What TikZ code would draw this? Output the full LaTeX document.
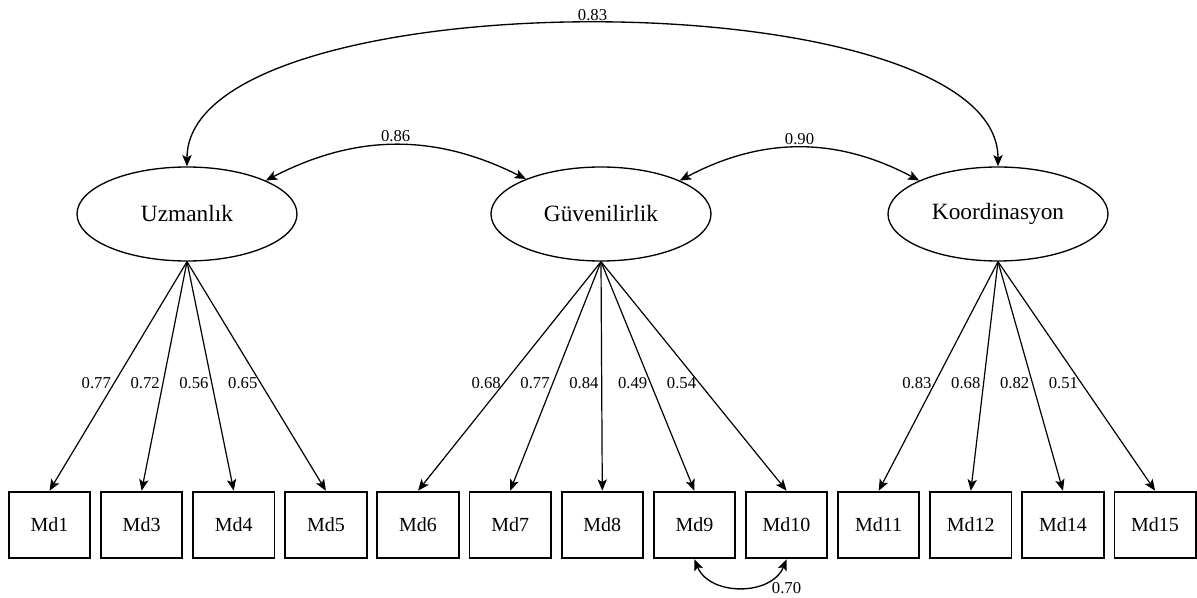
\documentclass[tikz,border=0pt]{standalone}
\usepackage{fontspec}
\setmainfont{Liberation Serif}
\usetikzlibrary{arrows.meta,positioning,shapes.geometric}
\tikzset{
  latent/.style={draw=black, line width=1pt, ellipse, inner sep=0pt,
    minimum width=165pt, minimum height=70.5pt, font=\fontsize{17.5}{20}\selectfont},
  indicator/.style={draw=black, line width=1.4pt, inner sep=0pt,
    minimum width=61pt, minimum height=50pt, font=\fontsize{15}{18}\selectfont},
  wire/.style={-{Stealth[length=8.5pt, width=7pt, inset=2pt]}, line width=0.9pt},
  covwire/.style={{Stealth[length=8.5pt, width=7pt, inset=2pt]}-{Stealth[length=8.5pt, width=7pt, inset=2pt]}, line width=1pt},
  labelbox/.style={inner sep=2pt, font=\fontsize{12.5}{14}\selectfont}
}
\begin{document}
\begin{tikzpicture}[x=0.75pt, y=0.75pt, node distance=6.7pt]
  \useasboundingbox (0,0) rectangle (1197,597);
  % observed items
  \node[indicator] (md1) at (49.5,72) {Md1};
  \node[indicator, right=of md1] (md3) {Md3};
  \node[indicator, right=of md3] (md4) {Md4};
  \node[indicator, right=of md4] (md5) {Md5};
  \node[indicator, right=of md5] (md6) {Md6};
  \node[indicator, right=of md6] (md7) {Md7};
  \node[indicator, right=of md7] (md8) {Md8};
  \node[indicator, right=of md8] (md9) {Md9};
  \node[indicator, right=of md9] (md10) {Md10};
  \node[indicator, right=of md10] (md11) {Md11};
  \node[indicator, right=of md11] (md12) {Md12};
  \node[indicator, right=of md12] (md14) {Md14};
  \node[indicator, right=of md14] (md15) {Md15};
  % factors
  \node[latent] (uzm) at (187,383) {Uzmanlık};
  \node[latent] (guv) at (601,383) {Güvenilirlik};
  \node[latent] (koor) at (998,383) {Koordinasyon};
  % loadings
  \draw[wire] (uzm.south) -- node[labelbox, left, pos=0.53]{0.77} (md1.north);
  \draw[wire] (uzm.south) -- node[labelbox, left, pos=0.53]{0.72} (md3.north);
  \draw[wire] (uzm.south) -- node[labelbox, left, pos=0.53]{0.56} (md4.north);
  \draw[wire] (uzm.south) -- node[labelbox, left, pos=0.53]{0.65} (md5.north);
  \draw[wire] (guv.south) -- node[labelbox, left, pos=0.53]{0.68} (md6.north);
  \draw[wire] (guv.south) -- node[labelbox, left, pos=0.53]{0.77} (md7.north);
  \draw[wire] (guv.south) -- node[labelbox, left, pos=0.53]{0.84} (md8.north);
  \draw[wire] (guv.south) -- node[labelbox, left, pos=0.53]{0.49} (md9.north);
  \draw[wire] (guv.south) -- node[labelbox, left, pos=0.53]{0.54} (md10.north);
  \draw[wire] (koor.south) -- node[labelbox, left, pos=0.53]{0.83} (md11.north);
  \draw[wire] (koor.south) -- node[labelbox, left, pos=0.53]{0.68} (md12.north);
  \draw[wire] (koor.south) -- node[labelbox, left, pos=0.53]{0.82} (md14.north);
  \draw[wire] (koor.south) -- node[labelbox, left, pos=0.53]{0.51} (md15.north);
  % correlations
  \draw[covwire] (uzm.23) to[bend left=27] node[labelbox, above]{0.86} (guv.155);
  \draw[covwire] (guv.23) to[bend left=28] node[labelbox, above]{0.90} (koor.157);
  \draw[covwire] (uzm.north) .. controls +(0,190) and +(0,190) ..
    node[labelbox, above]{0.83} (koor.north);
  \draw[covwire] (md9.south) .. controls +(15,-37) and +(-15,-37) ..
    node[labelbox, pos=1, below=14.5pt]{0.70} (md10.south);
\end{tikzpicture}
\end{document}
